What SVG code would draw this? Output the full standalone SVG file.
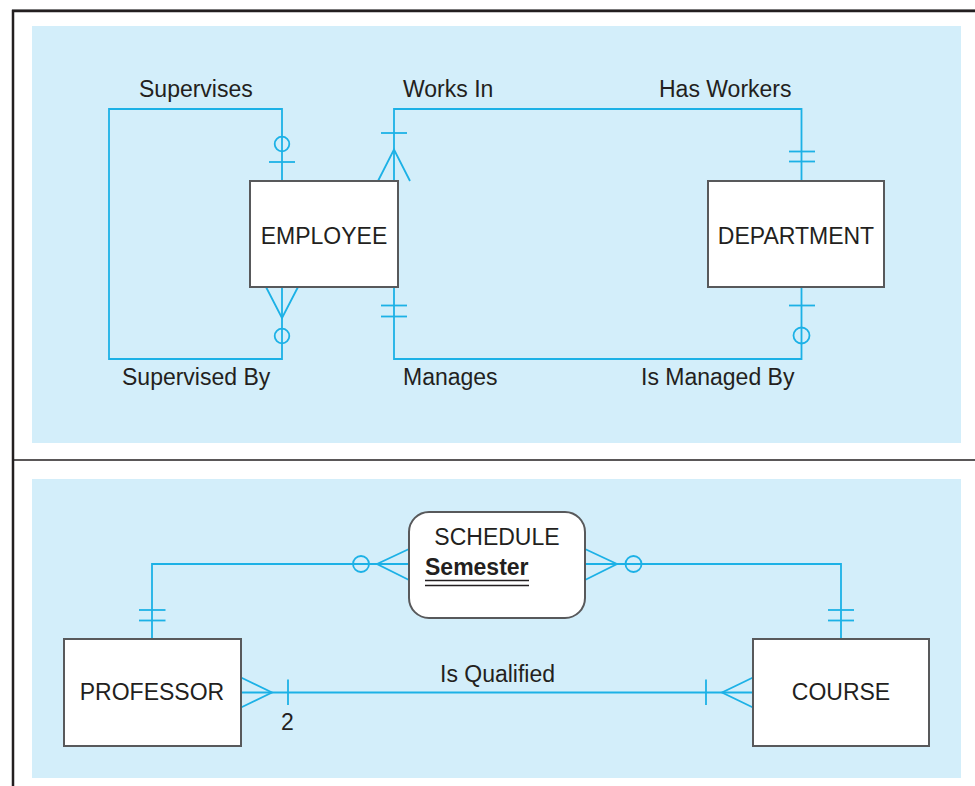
<svg xmlns="http://www.w3.org/2000/svg" width="975" height="786" viewBox="0 0 975 786">
<style>
.panel{fill:#d3eefa}
.frame{stroke:#231f20;fill:none}
.ent{fill:#ffffff;stroke:#58595b;stroke-width:2}
.c{stroke:#1cb1e6;stroke-width:1.8;fill:none}
.t{font-family:"Liberation Sans",Arial,sans-serif;font-size:23px;fill:#231f20}
.m{text-anchor:middle}
</style>
<rect width="975" height="786" fill="#ffffff"/>
<rect class="panel" x="32" y="26" width="929" height="417"/>
<rect class="panel" x="32" y="479" width="929" height="299"/>
<g id="frame">
<line x1="12" y1="9.5" x2="975" y2="9.5" stroke="#9a9a9a" stroke-width="1"/>
<path class="frame" d="M13 786 V11 H975" stroke-width="2.5"/>
<line class="frame" x1="13" y1="460" x2="975" y2="460" stroke-width="1.6"/>
</g>
<g id="connectors">
<path class="c" d="M282 181 V109 H109 V359 H282 V287"/>
<circle class="c" cx="282" cy="144" r="7.3"/>
<line class="c" x1="269" y1="162" x2="295" y2="162"/>
<path class="c" d="M266 287 L282 318 L298 287"/>
<circle class="c" cx="282" cy="336" r="7.3"/>
<path class="c" d="M394 181 V109 H801.5 V181"/>
<line class="c" x1="381" y1="133" x2="407" y2="133"/>
<path class="c" d="M378 181 L394 149.5 L410 181"/>
<line class="c" x1="789" y1="151.5" x2="815" y2="151.5"/>
<line class="c" x1="789" y1="161.5" x2="815" y2="161.5"/>
<path class="c" d="M394 287 V359 H801.5 V287"/>
<line class="c" x1="381" y1="305.5" x2="407" y2="305.5"/>
<line class="c" x1="381" y1="316.5" x2="407" y2="316.5"/>
<line class="c" x1="789" y1="305.5" x2="815" y2="305.5"/>
<circle class="c" cx="801.5" cy="335.5" r="8"/>
<path class="c" d="M152 639 V564 H409"/>
<line class="c" x1="139" y1="610" x2="165.5" y2="610"/>
<line class="c" x1="139" y1="620.5" x2="165.5" y2="620.5"/>
<circle class="c" cx="361" cy="564" r="8" fill="#d3eefa"/>
<path class="c" d="M409 549 L377 564 L409 580"/>
<path class="c" d="M585 564 H841 V639"/>
<path class="c" d="M585 549 L617 564 L585 580"/>
<circle class="c" cx="633.5" cy="564" r="8" fill="#d3eefa"/>
<line class="c" x1="828" y1="610" x2="854" y2="610"/>
<line class="c" x1="828" y1="620.5" x2="854" y2="620.5"/>
<line class="c" x1="241" y1="692.5" x2="753" y2="692.5"/>
<path class="c" d="M241 677.5 L272 692.5 L241 707.5"/>
<line class="c" x1="288" y1="679.5" x2="288" y2="705"/>
<path class="c" d="M753 677.5 L722 692.5 L753 707.5"/>
<line class="c" x1="706" y1="679.5" x2="706" y2="705"/>
</g>
<g id="labels">
<text class="t" x="139" y="97">Supervises</text>
<text class="t" x="403" y="97">Works In</text>
<text class="t" x="659" y="97">Has Workers</text>
<text class="t" x="122" y="385">Supervised By</text>
<text class="t" x="403" y="385">Manages</text>
<text class="t" x="641" y="385">Is Managed By</text>
<text class="t" x="440" y="682">Is Qualified</text>
<text class="t" x="281" y="730">2</text>
</g>
<g id="employee">
<rect class="ent" x="250" y="181" width="148" height="106"/>
<text class="t m" x="324" y="244">EMPLOYEE</text>
</g>
<g id="department">
<rect class="ent" x="708" y="181" width="176" height="106"/>
<text class="t m" x="796" y="244">DEPARTMENT</text>
</g>
<g id="schedule">
<rect class="ent" x="409" y="512" width="176" height="106" rx="20" ry="20"/>
<text class="t m" x="497" y="545">SCHEDULE</text>
<text class="t" x="425" y="575" font-weight="bold">Semester</text>
<line x1="425" y1="580.5" x2="529" y2="580.5" stroke="#231f20" stroke-width="1.3"/>
<line x1="425" y1="585.5" x2="529" y2="585.5" stroke="#231f20" stroke-width="1.3"/>
</g>
<g id="professor">
<rect class="ent" x="64" y="639" width="177" height="107"/>
<text class="t m" x="152" y="700">PROFESSOR</text>
</g>
<g id="course">
<rect class="ent" x="753" y="639" width="176" height="107"/>
<text class="t m" x="841" y="700">COURSE</text>
</g>
</svg>
